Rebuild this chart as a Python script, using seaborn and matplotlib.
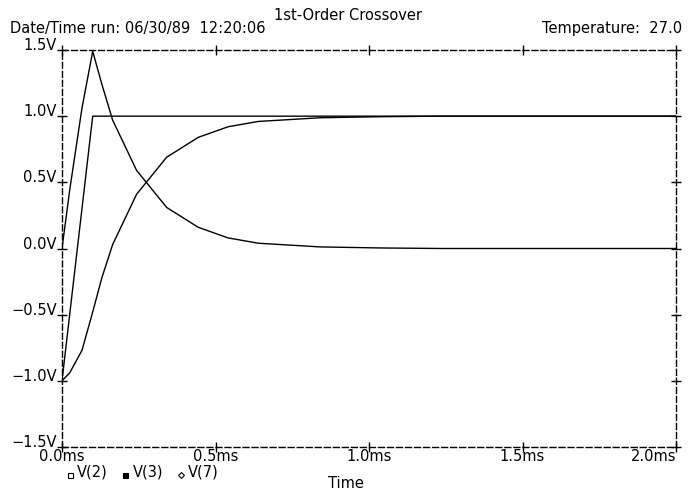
import matplotlib
matplotlib.use("Agg")
import matplotlib.pyplot as plt
from matplotlib.lines import Line2D
import numpy as np
import pandas as pd
import seaborn as sns

# ---- data ----
time_ms = [0.0, 0.025, 0.065, 0.1, 0.13, 0.165, 0.243, 0.341, 0.444, 0.541,
           0.639, 0.84, 1.04, 1.24, 1.44, 1.64, 1.84, 2.0]
v2 = [0.0, 0.44, 1.06, 1.49, 1.24, 0.97, 0.59, 0.31, 0.16, 0.08,
      0.04, 0.012, 0.004, 0.0, 0.0, 0.0, 0.0, 0.0]
v3 = [-1.0, -0.5, 0.3, 1.0, 1.0, 1.0, 1.0, 1.0, 1.0, 1.0,
      1.0, 1.0, 1.0, 1.0, 1.0, 1.0, 1.0, 1.0]
v7 = [-1.0, -0.94, -0.77, -0.48, -0.22, 0.03, 0.41, 0.69, 0.84, 0.92,
      0.96, 0.988, 0.996, 1.0, 1.0, 1.0, 1.0, 1.0]
series_names = ["V(2)", "V(3)", "V(7)"]
legend_markers = ["s", "s", "D"]
legend_fill = ["white", "black", "white"]

x_ticks = [0.0, 0.5, 1.0, 1.5, 2.0]
x_tick_labels = ["0.0ms", "0.5ms", "1.0ms", "1.5ms", "2.0ms"]
y_ticks = [-1.5, -1.0, -0.5, 0.0, 0.5, 1.0, 1.5]
y_tick_labels = ["\u22121.5V", "\u22121.0V", "\u22120.5V", "0.0V", "0.5V", "1.0V", "1.5V"]

title_text = "1st-Order Crossover"
date_text = "Date/Time run: 06/30/89  12:20:06"
temp_text = "Temperature:  27.0"
xlabel_text = "Time"

# ---- figure ----
sns.set_theme(style="white")
plt.rcParams["font.family"] = ["DejaVu Sans"]
FS = 10.5

W, H = 699, 491
fig = plt.figure(figsize=(W / 100, H / 100), dpi=100)
fig.patch.set_facecolor("white")
ax = fig.add_axes([62 / W, 1 - 447 / H, 614 / W, 397 / H])

df = pd.DataFrame({
    "t": time_ms * 3,
    "v": v2 + v3 + v7,
    "s": [series_names[0]] * len(time_ms) + [series_names[1]] * len(time_ms)
         + [series_names[2]] * len(time_ms),
})
sns.lineplot(data=df, x="t", y="v", hue="s", palette=["black"] * 3,
             legend=False, ax=ax, linewidth=1.0, estimator=None, sort=False)

ax.set_xlim(0, 2.0)
ax.set_ylim(-1.5, 1.5)
ax.set_xlabel("")
ax.set_ylabel("")
ax.set_facecolor("white")
ax.grid(False)

for sp in ax.spines.values():
    sp.set_visible(True)
    sp.set_color("black")
    sp.set_linewidth(1.0)
    sp.set_linestyle((0, (4.3, 2.2)))

ax.set_xticks(x_ticks)
ax.set_xticklabels(x_tick_labels)
ax.set_yticks(y_ticks)
ax.set_yticklabels(y_tick_labels)
ax.tick_params(axis="both", direction="inout", length=6.5, width=1.0,
               colors="black", labelsize=FS, top=True, right=True,
               bottom=True, left=True)
ax.tick_params(axis="x", pad=-2)
ax.tick_params(axis="y", pad=0.5)
for lab in ax.get_yticklabels():
    lab.set_verticalalignment("baseline")
xl = ax.get_xticklabels()
xl[-1].set_horizontalalignment("right")
xl[0].set_horizontalalignment("center")

def fy(px):
    return 1 - px / H

fig.text(348 / W, fy(20), title_text, ha="center", va="baseline", fontsize=FS, color="black")
fig.text(10 / W, fy(33), date_text, ha="left", va="baseline", fontsize=FS, color="black")
fig.text(682 / W, fy(33), temp_text, ha="right", va="baseline", fontsize=FS, color="black")
fig.text(346 / W, fy(488), xlabel_text, ha="center", va="baseline", fontsize=FS, color="black")

marker_x = [70, 125, 181.5]
text_x = [77, 133, 188]
for name, mk, fc, mx, tx in zip(series_names, legend_markers, legend_fill, marker_x, text_x):
    ms = 3.6 if mk == "s" else 3.0
    fig.add_artist(Line2D([mx / W], [fy(475)], marker=mk, markersize=ms,
                          markerfacecolor=fc, markeredgecolor="black",
                          markeredgewidth=0.8, linestyle="none",
                          transform=fig.transFigure))
    fig.text(tx / W, fy(476.5), name, ha="left", va="baseline", fontsize=FS, color="black")

fig.savefig("out.png", dpi=100, facecolor="white")
